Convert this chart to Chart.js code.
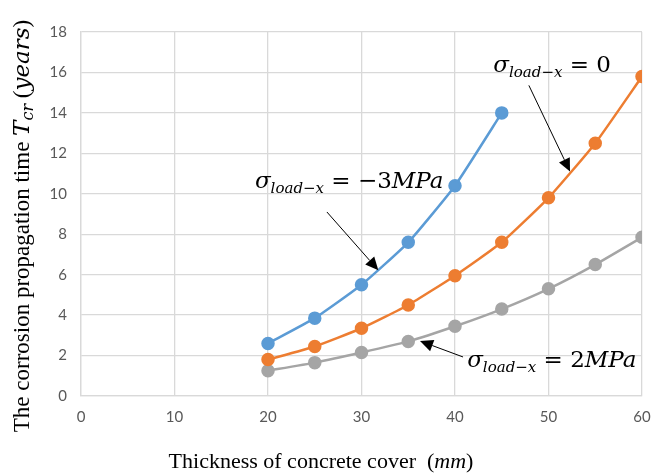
<!DOCTYPE html>
<html>
<head>
<meta charset="utf-8">
<script src="https://cdn.jsdelivr.net/npm/chart.js@4.4.1/dist/chart.umd.min.js"></script>
<style>
  html, body { margin: 0; padding: 0; background: #fff; }
  #wrap { width: 651px; height: 475px; }
</style>
</head>
<body>
<div id="wrap"><canvas id="chart" width="651" height="475"></canvas></div>
<script>
// Thickness of concrete cover (mm)
const thickness = [20, 25, 30, 35, 40, 45, 50, 55, 60];
// Corrosion propagation time Tcr (years)
const tcrMinus3 = [2.6, 3.85, 5.5, 7.6, 10.4, 14.0];
const tcrZero = [1.8, 2.45, 3.35, 4.5, 5.95, 7.6, 9.8, 12.5, 15.8];
const tcrPlus2 = [1.25, 1.65, 2.15, 2.7, 3.45, 4.3, 5.3, 6.5, 7.85];
const xTicks = [0, 10, 20, 30, 40, 50, 60];
const yTicks = [0, 2, 4, 6, 8, 10, 12, 14, 16, 18];

// label annotations: text anchor + arrow (tail -> head) in data units
const notes = [
  { num: '−3', unit: 'MPa', at: [18.6, 10.3], tail: [26.3, 9.1], head: [31.8, 6.22] },
  { num: '0', unit: '', at: [44.1, 16.0], tail: [47.9, 15.36], head: [52.3, 11.1] },
  { num: '2', unit: 'MPa', at: [41.3, 1.43], tail: [40.86, 1.93], head: [36.26, 2.72] }
];

function toPoints(ys) {
  return ys.map((y, i) => ({ x: thickness[i], y: y }));
}

function series(data, color) {
  return {
    data: toPoints(data),
    borderColor: color,
    backgroundColor: color,
    borderWidth: 2.5,
    pointRadius: 5.5,
    pointHoverRadius: 5.5,
    tension: 0.15
  };
}

// draw a run of text pieces with differing fonts
function drawPieces(ctx, pieces, x, y) {
  pieces.forEach(p => {
    ctx.font = p.font;
    ctx.fillText(p.text, x, y + (p.dy || 0));
    x += ctx.measureText(p.text).width;
  });
}

function piecesWidth(ctx, pieces) {
  let w = 0;
  pieces.forEach(p => { ctx.font = p.font; w += ctx.measureText(p.text).width; });
  return w;
}

const mathFont = 'italic 23px "DejaVu Serif"';
const subFont = 'italic 15px "DejaVu Serif"';
const eqFont = '23px "DejaVu Serif"';

const extras = {
  id: 'extras',
  afterDatasetsDraw(chart) {
    const ctx = chart.ctx;
    const xs = chart.scales.x, ys = chart.scales.y;
    ctx.save();
    ctx.fillStyle = '#000';
    ctx.textBaseline = 'alphabetic';
    ctx.textAlign = 'left';

    notes.forEach(n => {
      const px = xs.getPixelForValue(n.at[0]);
      const py = ys.getPixelForValue(n.at[1]);
      drawPieces(ctx, [
        { text: 'σ', font: mathFont },
        { text: 'load−x', font: subFont, dy: 5 },
        { text: ' = ' + n.num, font: eqFont },
        { text: n.unit, font: mathFont }
      ], px, py);

      const x1 = xs.getPixelForValue(n.tail[0]), y1 = ys.getPixelForValue(n.tail[1]);
      const x2 = xs.getPixelForValue(n.head[0]), y2 = ys.getPixelForValue(n.head[1]);
      const ang = Math.atan2(y2 - y1, x2 - x1);
      const len = 13, half = 6;
      const bx = x2 - len * Math.cos(ang), by = y2 - len * Math.sin(ang);
      ctx.strokeStyle = '#000';
      ctx.lineWidth = 1;
      ctx.beginPath();
      ctx.moveTo(x1, y1);
      ctx.lineTo(bx, by);
      ctx.stroke();
      ctx.beginPath();
      ctx.moveTo(x2, y2);
      ctx.lineTo(bx + half * Math.sin(ang), by - half * Math.cos(ang));
      ctx.lineTo(bx - half * Math.sin(ang), by + half * Math.cos(ang));
      ctx.closePath();
      ctx.fill();
    });

    // x axis title
    const xt = [
      { text: 'Thickness of concrete cover  (', font: '22px "Liberation Serif"' },
      { text: 'mm', font: 'italic 22px "Liberation Serif"' },
      { text: ')', font: '22px "Liberation Serif"' }
    ];
    drawPieces(ctx, xt, 321 - piecesWidth(ctx, xt) / 2, 468);

    // y axis title
    const yt = [
      { text: 'The corrosion propagation time ', font: '23px "Liberation Serif"' },
      { text: 'T', font: 'italic 23px "DejaVu Serif"' },
      { text: 'cr', font: 'italic 16px "DejaVu Serif"', dy: 4 },
      { text: ' (', font: '23px "Liberation Serif"' },
      { text: 'years', font: 'italic 23px "DejaVu Serif"' },
      { text: ')', font: '23px "Liberation Serif"' }
    ];
    ctx.translate(29, 226);
    ctx.rotate(-Math.PI / 2);
    drawPieces(ctx, yt, -piecesWidth(ctx, yt) / 2, 0);
    ctx.restore();
  }
};

const tickFont = { family: 'Lato', size: 15 };

new Chart(document.getElementById('chart'), {
  type: 'line',
  data: {
    datasets: [
      series(tcrMinus3, '#5B9BD5'),
      series(tcrZero, '#ED7D31'),
      series(tcrPlus2, '#A5A5A5')
    ]
  },
  options: {
    responsive: false,
    animation: false,
    events: [],
    layout: { padding: { top: 32, right: 9, left: 0, bottom: 0 } },
    plugins: { legend: { display: false }, tooltip: { enabled: false } },
    scales: {
      x: {
        type: 'linear',
        min: 0, max: 60,
        afterBuildTicks: s => { s.ticks = xTicks.map(v => ({ value: v })); },
        afterFit: s => { s.height = 79; s.paddingLeft = 0; s.paddingRight = 0; },
        grid: { color: '#d9d9d9', lineWidth: 1.3, drawTicks: false },
        border: { color: '#d9d9d9', width: 1.3 },
        ticks: { color: '#595959', font: tickFont, padding: 12 }
      },
      y: {
        min: 0, max: 18,
        afterBuildTicks: s => { s.ticks = yTicks.map(v => ({ value: v })); },
        afterFit: s => { s.width = 81; s.paddingTop = 0; s.paddingBottom = 0; },
        grid: { color: '#d9d9d9', lineWidth: 1.3, drawTicks: false },
        border: { color: '#d9d9d9', width: 1.3 },
        ticks: { color: '#595959', font: tickFont, padding: 14 }
      }
    }
  },
  plugins: [extras]
});
</script>
</body>
</html>
